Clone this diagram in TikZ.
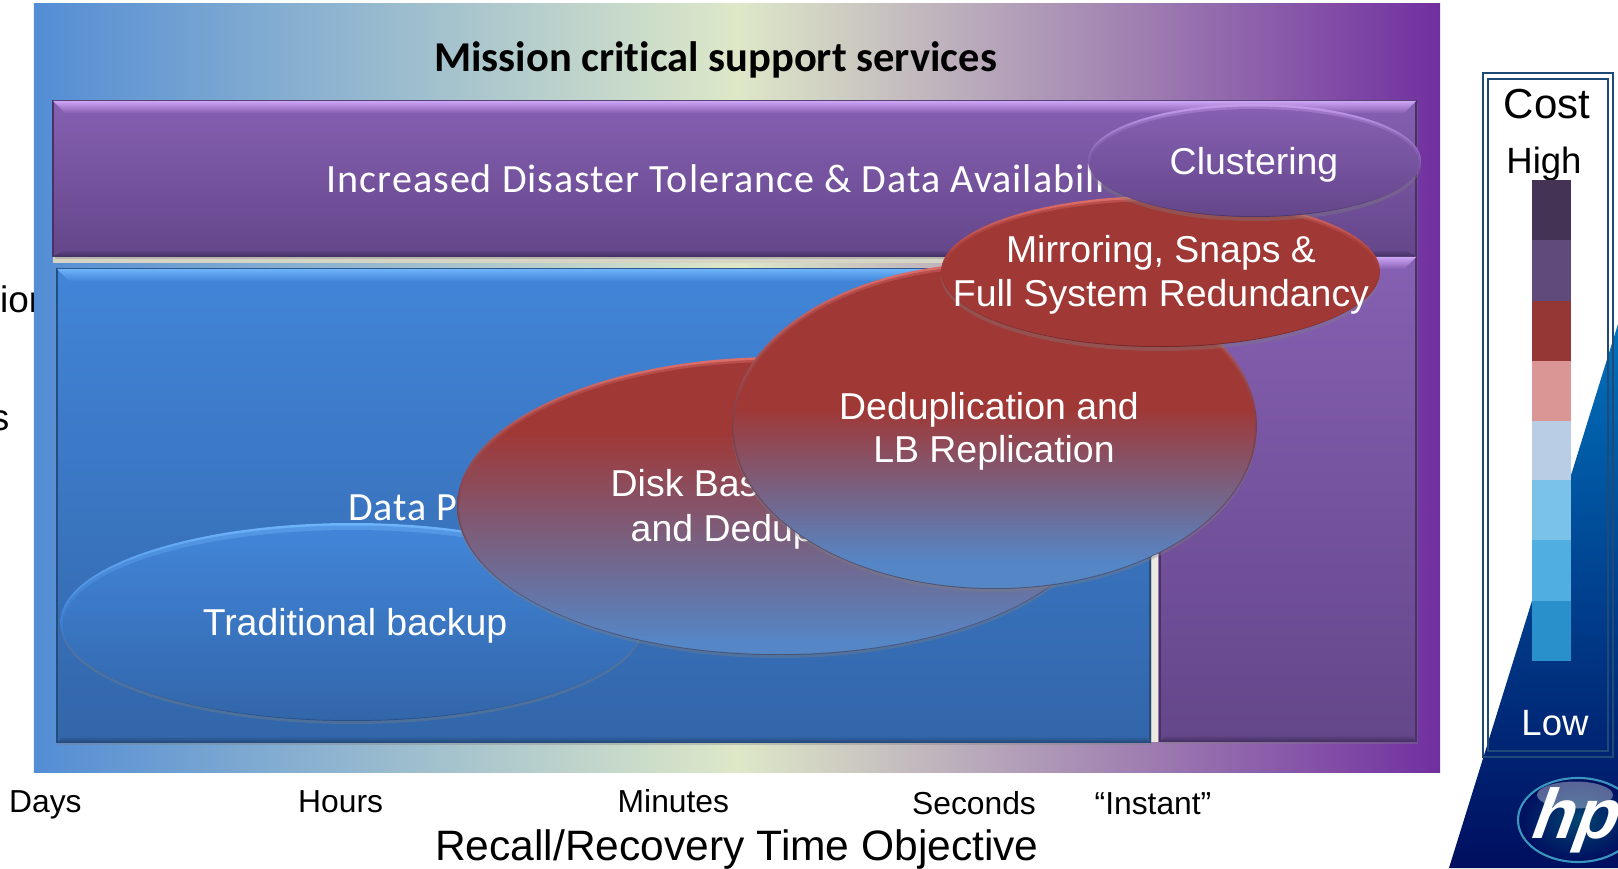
\documentclass[tikz,border=0pt]{standalone}
\usepackage{fontspec}
\setmainfont{Liberation Sans}
\newfontfamily\panelfont[Ligatures=NoCommon]{Carlito}
\newfontfamily\spacedfont[Ligatures=NoCommon,LetterSpace=2.5]{Carlito}
\usetikzlibrary{shapes.geometric,shadows}

\definecolor{bgblue}{RGB}{83,141,213}
\definecolor{bgcream}{RGB}{222,232,200}
\definecolor{bgviolet}{RGB}{112,48,160}
\definecolor{violettop}{RGB}{134,96,178}
\definecolor{violetlow}{RGB}{100,70,138}
\definecolor{violetlight}{RGB}{205,165,245}
\definecolor{violetdark}{RGB}{70,50,100}
\definecolor{bluetop}{RGB}{66,133,216}
\definecolor{bluelow}{RGB}{50,102,170}
\definecolor{bluelight}{RGB}{110,180,250}
\definecolor{bluedark}{RGB}{38,76,125}
\definecolor{redface}{RGB}{160,56,54}
\definecolor{redlight}{RGB}{222,110,106}
\definecolor{reddark}{RGB}{100,36,40}
\definecolor{mixblue}{RGB}{85,134,198}
\definecolor{mixdark}{RGB}{70,72,100}
\definecolor{framecolor}{RGB}{31,73,118}
\definecolor{stripcolor}{RGB}{214,212,196}
\definecolor{wedgetop}{RGB}{0,114,188}
\definecolor{wedgelow}{RGB}{0,14,95}

\pgfdeclareverticalshading{diskshade}{100bp}{color(0bp)=(mixblue); color(27bp)=(mixblue); color(63bp)=(redface); color(100bp)=(redface)}
\pgfdeclareverticalshading{dedupshade}{100bp}{color(0bp)=(mixblue); color(29bp)=(mixblue); color(53bp)=(redface); color(100bp)=(redface)}

\begin{document}
\begin{tikzpicture}
[inner sep=0pt,
panel/.style={rectangle, draw=#1, line width=0.4pt, drop shadow={shadow xshift=0.02cm, shadow yshift=-0.03cm, opacity=0.35}},
bubble/.style={ellipse, inner sep=0pt},
soft/.style={bubble, opacity=0.55},
rimblue/.style={bubble, top color=bluelight, bottom color=bluedark, middle color=bluetop, drop shadow={shadow xshift=0cm, shadow yshift=-0.03cm, opacity=0.35}},
rimmix/.style={bubble, top color=redlight, bottom color=mixdark, middle color=redface!60!mixdark, drop shadow={shadow xshift=0cm, shadow yshift=-0.03cm, opacity=0.35}},
rimred/.style={bubble, top color=redlight, bottom color=reddark, middle color=redface, drop shadow={shadow xshift=0cm, shadow yshift=-0.04cm, opacity=0.35}},
rimviolet/.style={bubble, top color=violetlight!85!violettop, bottom color=violetdark, middle color=violettop, drop shadow={shadow xshift=0cm, shadow yshift=-0.04cm, opacity=0.35}},
cloudtext/.style={font=\fontsize{10.65}{12}\selectfont, text=white, anchor=base},
paneltext/.style={font=\spacedfont\fontsize{11.4}{13}\selectfont, text=white, anchor=base west},
axistext/.style={font=\fontsize{9.05}{10}\selectfont, anchor=base},
cell/.style={rectangle, inner sep=0pt, minimum width=0.39cm, minimum height=0.605cm}]

\useasboundingbox (0,0) rectangle (16.18,8.68);

\node[font=\fontsize{10.5}{12}\selectfont, anchor=base west] (cution) at (-0.005,5.55) {ion};
\node[font=\fontsize{10.5}{12}\selectfont, anchor=base east] (cuts) at (0.10,4.38) {s};

\node[rectangle, left color=bgblue, right color=bgviolet, middle color=bgcream, minimum width=14.06cm, minimum height=7.68cm] (backdrop) at (7.37,4.80) {};
\node[font=\panelfont\bfseries\fontsize{12.1}{14}\selectfont, anchor=base] (title) at (7.155,7.96) {Mission critical support services};

% panels
\node[rectangle, fill=stripcolor, minimum width=9.4cm, minimum height=0.06cm] (striptop) at (5.23,6.08) {};
\node[rectangle, fill=stripcolor!50!white, minimum width=0.08cm, minimum height=4.8cm] (stripside) at (11.54,3.66) {};
\node[panel=violetdark, top color=violettop, bottom color=violetlow, minimum width=13.63cm, minimum height=1.55cm] (band) at (7.345,6.895) {};
\node[panel=violetdark, top color=violettop, bottom color=violetlow, minimum width=2.56cm, minimum height=4.84cm] (violetside) at (12.88,3.69) {};
\node[panel=bluedark, top color=bluetop, bottom color=bluelow, minimum width=10.93cm, minimum height=4.73cm] (bluepanel) at (6.035,3.625) {};

\shade[top color=violetlight, bottom color=violettop] (0.53,7.67) -- (14.16,7.67) -- (14.04,7.55) -- (0.65,7.55) -- cycle;
\shade[top color=violetlow, bottom color=violetdark] (0.65,6.18) -- (14.04,6.18) -- (14.16,6.12) -- (0.53,6.12) -- cycle;
\shade[top color=violetlight, bottom color=violettop] (11.60,6.11) -- (14.16,6.11) -- (14.04,5.99) -- (11.72,5.99) -- cycle;
\shade[top color=violetlow, bottom color=violetdark] (11.66,1.33) -- (14.10,1.33) -- (14.16,1.27) -- (11.60,1.27) -- cycle;
\shade[top color=bluelight, bottom color=bluetop] (0.57,5.99) -- (11.50,5.99) -- (11.38,5.87) -- (0.69,5.87) -- cycle;
\shade[top color=bluelow, bottom color=bluedark] (0.63,1.32) -- (11.44,1.32) -- (11.50,1.26) -- (0.57,1.26) -- cycle;

\node[paneltext] (availtext) at (3.26,6.755) {Increased Disaster Tolerance \& Data Availabili};
\node[paneltext] (datatext) at (3.475,3.475) {Data P};

% ellipses
\node[rimblue, minimum width=5.83cm, minimum height=1.98cm] (backuprim) at (3.52,2.46) {};
\node[soft, top color=bluetop, bottom color=bluelow, minimum width=5.81cm, minimum height=1.95cm] (backupsoft) at (3.52,2.45) {};
\node[bubble, top color=bluetop, bottom color=bluelow, minimum width=5.78cm, minimum height=1.90cm] (backupface) at (3.52,2.43) {};
\node[cloudtext] (backuptext) at (3.55,2.325) {Traditional backup};

\node[rimmix, minimum width=6.44cm, minimum height=2.98cm] (diskrim) at (7.79,3.62) {};
\node[soft, shading=diskshade, minimum width=6.42cm, minimum height=2.95cm] (disksoft) at (7.79,3.61) {};
\node[bubble, shading=diskshade, minimum width=6.39cm, minimum height=2.92cm] (diskface) at (7.79,3.60) {};
\node[cloudtext, anchor=base west] (disktexta) at (6.10,3.72) {Disk Bas};
\node[cloudtext, anchor=base west] (disktextb) at (6.30,3.27) {and Dedup};

\node[rimmix, minimum width=5.25cm, minimum height=3.26cm] (deduprim) at (9.945,4.42) {};
\node[soft, shading=dedupshade, minimum width=5.23cm, minimum height=3.23cm] (dedupsoft) at (9.945,4.41) {};
\node[bubble, shading=dedupshade, minimum width=5.20cm, minimum height=3.20cm] (dedupface) at (9.945,4.40) {};
\node[cloudtext] (deduptexta) at (9.89,4.485) {Deduplication and};
\node[cloudtext] (deduptextb) at (9.94,4.05) {LB Replication};

\node[rimred, minimum width=4.39cm, minimum height=1.51cm] (mirrorrim) at (11.605,5.965) {};
\node[soft, fill=redface, minimum width=4.37cm, minimum height=1.48cm] (mirrorsoft) at (11.605,5.955) {};
\node[bubble, fill=redface, minimum width=4.34cm, minimum height=1.45cm] (mirrorface) at (11.605,5.945) {};
\node[cloudtext] (mirrortexta) at (11.61,6.055) {Mirroring, Snaps \&};
\node[cloudtext] (mirrortextb) at (11.61,5.61) {Full System Redundancy};

\node[rimviolet, minimum width=3.33cm, minimum height=1.13cm] (clusterrim) at (12.545,7.075) {};
\node[soft, top color=violettop, bottom color=violetlow, minimum width=3.31cm, minimum height=1.10cm] (clustersoft) at (12.545,7.065) {};
\node[bubble, top color=violettop, bottom color=violetlow, minimum width=3.28cm, minimum height=1.07cm] (clusterface) at (12.545,7.055) {};
\node[cloudtext] (clustertext) at (12.54,6.937) {Clustering};

% axis
\node[axistext] (days) at (0.454,0.56) {Days};
\node[axistext] (hours) at (3.406,0.56) {Hours};
\node[axistext] (minutes) at (6.734,0.56) {Minutes};
\node[axistext] (seconds) at (9.74,0.54) {Seconds};
\node[axistext] (instant) at (11.53,0.54) {“Instant”};
\node[font=\fontsize{12.1}{14}\selectfont, anchor=base] (objective) at (7.37,0.08) {Recall/Recovery Time Objective};

% cost scale
\shade[top color=wedgetop, bottom color=wedgelow] (16.18,5.44) -- (14.49,0) -- (16.18,0) -- cycle;
\node[rectangle, draw=framecolor, line width=0.8pt, minimum width=1.30cm, minimum height=6.84cm] (frameout) at (15.48,4.53) {};
\node[rectangle, draw=framecolor, line width=0.55pt, minimum width=1.20cm, minimum height=6.72cm] (framein) at (15.48,4.53) {};

\node[font=\fontsize{11.95}{14}\selectfont, anchor=base] (cost) at (15.47,7.49) {Cost};
\node[font=\fontsize{10.4}{12}\selectfont, anchor=base] (high) at (15.44,6.94) {High};
\node[font=\fontsize{10.4}{12}\selectfont, text=white, anchor=base] (low) at (15.55,1.33) {Low};

\node[cell, fill={rgb,255:red,68;green,51;blue,85}] (cell0) at (15.515,6.58) {};
\node[cell, fill={rgb,255:red,96;green,74;blue,123}] (cell1) at (15.515,5.975) {};
\node[cell, fill={rgb,255:red,149;green,55;blue,53}] (cell2) at (15.515,5.37) {};
\node[cell, fill={rgb,255:red,217;green,150;blue,148}] (cell3) at (15.515,4.77) {};
\node[cell, fill={rgb,255:red,185;green,205;blue,229}] (cell4) at (15.515,4.17) {};
\node[cell, fill={rgb,255:red,122;green,194;blue,232}] (cell5) at (15.515,3.575) {};
\node[cell, fill={rgb,255:red,80;green,174;blue,224}] (cell6) at (15.515,2.975) {};
\node[cell, fill={rgb,255:red,42;green,144;blue,204}] (cell7) at (15.515,2.37) {};

% logo
\node[ellipse, draw={rgb,255:red,58;green,150;blue,190}, line width=0.6pt, inner color=wedgetop!60!black, outer color=wedgelow, minimum width=1.20cm, minimum height=0.84cm] (logo) at (15.78,0.48) {};
\node[ellipse, fill=white, opacity=0.35, minimum width=0.76cm, minimum height=0.27cm] (logoshine) at (15.75,0.73) {};
\node[font=\bfseries\fontsize{20}{22}\selectfont, text=white, anchor=base west, xslant=0.36, transform shape] (logotext) at (15.27,0.30) {hp};
\end{tikzpicture}
\end{document}
